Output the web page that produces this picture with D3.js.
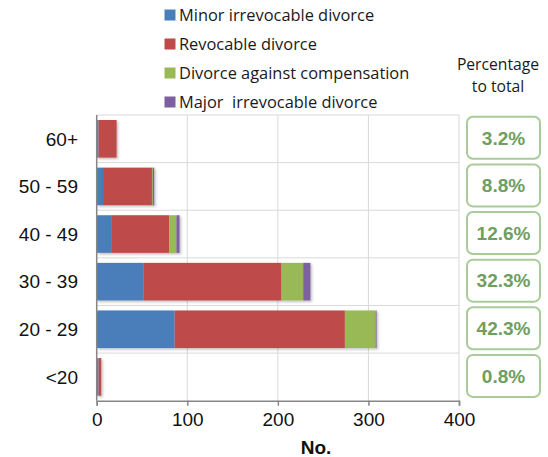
<!DOCTYPE html>
<html><head><meta charset="utf-8">
<script src="https://cdn.jsdelivr.net/npm/d3@7"></script>
<style>html,body{margin:0;padding:0;background:#fff;} text{white-space:pre;}</style>
</head><body><svg id="c" width="548" height="457"></svg>
<script>
const categories = ["60+", "50 - 59", "40 - 49", "30 - 39", "20 - 29", "<20"];
const seriesNames = ["Minor irrevocable divorce", "Revocable divorce", "Divorce against compensation", "Major  irrevocable divorce"];
const minorIrrevocable = [2, 7, 16, 52, 86, 2];
const revocable = [20, 54, 64, 152, 188, 3];
const againstCompensation = [0, 1, 8, 24, 34, 0];
const majorIrrevocable = [0, 1.5, 3.5, 8, 1, 0];
const percentages = ["3.2%", "8.8%", "12.6%", "32.3%", "42.3%", "0.8%"];
const xTicks = [0, 100, 200, 300, 400];
const colors = ["#4a7ebb", "#be4b48", "#98b954", "#7d60a0"];

const svg = d3.select("#c");
const x = d3.scaleLinear().domain([0, 400]).range([96.7, 459]);
const y = d3.scaleBand().domain(categories).range([115, 400.7]).paddingInner(0.21).paddingOuter(0.105);
const yb = d3.scaleBand().domain(categories).range([115, 400.7]);

// gridlines
const g = svg.append("g");
g.selectAll("line.v").data(xTicks.slice(1)).enter().append("line")
  .attr("x1", d => x(d)).attr("x2", d => x(d)).attr("y1", 115).attr("y2", 400.7)
  .attr("stroke", "#d9d9d9").attr("stroke-width", 1);
const bounds = categories.map(c => yb(c));
g.selectAll("line.h").data(bounds).enter().append("line")
  .attr("x1", x(0)).attr("x2", x(400)).attr("y1", d => d).attr("y2", d => d)
  .attr("stroke", "#d9d9d9").attr("stroke-width", 1);

// shadow
const defs = svg.append("defs");
const f = defs.append("filter").attr("id", "sh").attr("x", "-10%").attr("y", "-10%").attr("width", "130%").attr("height", "140%");
f.append("feDropShadow").attr("dx", 1.5).attr("dy", 1.5).attr("stdDeviation", 1).attr("flood-color", "#000").attr("flood-opacity", 0.25);

// stacked bars
const rows = categories.map((c, i) => ({cat: c, v: [minorIrrevocable[i], revocable[i], againstCompensation[i], majorIrrevocable[i]]}));
const keys = [0, 1, 2, 3];
const stack = d3.stack().keys(keys).value((d, k) => d.v[k]);
const layers = stack(rows);
const bars = svg.append("g");
layers.forEach((layer, li) => {
  bars.append("g").attr("fill", colors[li]).attr("filter", "url(#sh)")
    .selectAll("rect").data(layer).enter().append("rect")
    .attr("x", d => x(d[0])).attr("width", d => Math.max(0, x(d[1]) - x(d[0])))
    .attr("y", d => y(d.data.cat)).attr("height", y.bandwidth());
});

// axes
const xAxis = svg.append("g").attr("transform", "translate(0,400.7)")
  .call(d3.axisBottom(x).tickValues(xTicks).tickSize(5).tickPadding(7));
xAxis.select(".domain").attr("stroke", "#868686").attr("stroke-width", 1.5);
xAxis.selectAll(".tick line").attr("stroke", "#868686").attr("stroke-width", 1.5);
xAxis.selectAll("text").attr("font-family", "Liberation Sans, Arial, sans-serif").attr("font-size", 19).attr("fill", "#111");

svg.append("line").attr("x1", x(0)).attr("x2", x(0)).attr("y1", 115).attr("y2", 400.7)
  .attr("stroke", "#868686").attr("stroke-width", 1.5);

svg.append("g").selectAll("text").data(categories).enter().append("text")
  .attr("x", 78).attr("y", d => yb(d) + yb.bandwidth() / 2)
  .attr("dy", "0.36em").attr("text-anchor", "end")
  .attr("font-family", "Liberation Sans, Arial, sans-serif").attr("font-size", 19).attr("fill", "#111")
  .text(d => d);

svg.append("text").attr("x", 316).attr("y", 454).attr("text-anchor", "middle")
  .attr("font-family", "Liberation Sans, Arial, sans-serif").attr("font-size", 19).attr("font-weight", "bold").attr("fill", "#111")
  .text("No.");

// legend
const lg = svg.append("g");
seriesNames.forEach((n, i) => {
  const cy = 15.5 + i * 29;
  lg.append("rect").attr("x", 164.5).attr("y", cy - 6).attr("width", 11).attr("height", 11).attr("fill", colors[i]);
  lg.append("text").attr("x", 179).attr("y", cy).attr("dy", "0.36em")
    .attr("font-family", "Open Sans, sans-serif").attr("font-size", 16.4).attr("fill", "#1a1a1a").text(n);
});

// percentage header
svg.append("text").attr("x", 498).attr("y", 70).attr("text-anchor", "middle")
  .attr("font-family", "Open Sans, sans-serif").attr("font-size", 15.7).attr("fill", "#1a1a1a")
  .selectAll("tspan").data(["Percentage", "to total"]).enter().append("tspan")
  .attr("x", 498).attr("dy", (d, i) => i === 0 ? 0 : 22).text(d => d);

// percentage boxes
const pb = svg.append("g");
categories.forEach((c, i) => {
  const cy = yb(c) + yb.bandwidth() / 2 - 1;
  pb.append("rect").attr("x", 467).attr("y", cy - 21).attr("width", 73).attr("height", 42)
    .attr("rx", 6).attr("ry", 6).attr("fill", "#fff").attr("stroke", "#a9cb9a").attr("stroke-width", 2);
  pb.append("text").attr("x", 503.5).attr("y", cy).attr("dy", "0.36em").attr("text-anchor", "middle")
    .attr("font-family", "Liberation Sans, Arial, sans-serif").attr("font-size", 19).attr("font-weight", "bold")
    .attr("fill", "#6f9e5f").text(percentages[i]);
});
</script></body></html>
